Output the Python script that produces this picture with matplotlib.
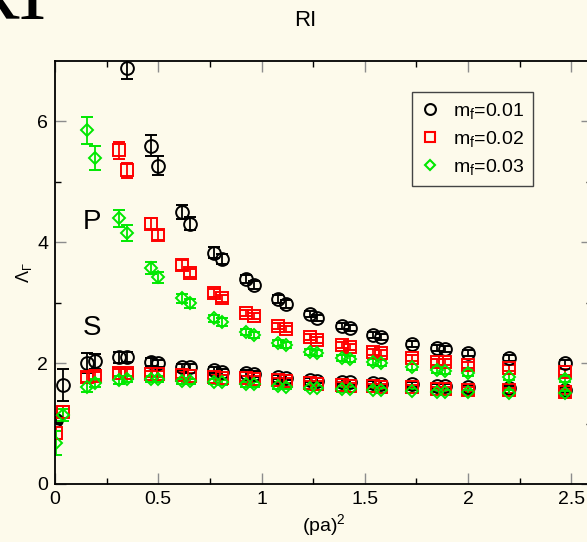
import numpy as np
import matplotlib
matplotlib.use("Agg")
import matplotlib.pyplot as plt
from matplotlib.lines import Line2D

plt.rcParams['font.family'] = ['Liberation Sans', 'DejaVu Sans']
plt.rcParams['mathtext.fontset'] = 'custom'
plt.rcParams['mathtext.rm'] = 'Liberation Sans'
plt.rcParams['mathtext.it'] = 'Liberation Sans:italic'

# (pa)^2 values
x_all = [0.005, 0.039, 0.155, 0.193, 0.308, 0.347, 0.463, 0.50, 0.617, 0.655,
         0.77, 0.81, 0.925, 0.965, 1.08, 1.12, 1.235, 1.27, 1.39, 1.43,
         1.54, 1.58, 1.73, 1.85, 1.89, 2.0, 2.2, 2.47]

# P channel (points above the top of the frame left out)
x_p01 = x_all[5:]
p01 = [6.88, 5.60, 5.27, 4.50, 4.31, 3.83, 3.72, 3.39, 3.29, 3.06, 2.98, 2.81, 2.74,
       2.61, 2.58, 2.46, 2.43, 2.31, 2.25, 2.24, 2.16, 2.08, 2.00]
p01_err = [0.18, 0.17, 0.15, 0.12, 0.11, 0.09, 0.08, 0.07, 0.07, 0.06, 0.06, 0.05, 0.05,
           0.05, 0.05, 0.05, 0.05, 0.05, 0.05, 0.05, 0.05, 0.05, 0.05]

x_p02 = x_all[4:]
p02 = [5.52, 5.19, 4.31, 4.12, 3.62, 3.49, 3.16, 3.07, 2.83, 2.78, 2.61, 2.56, 2.43, 2.38,
       2.30, 2.27, 2.18, 2.16, 2.08, 2.02, 2.02, 1.97, 1.92, 1.85]
p02_err = [0.14, 0.13, 0.09, 0.08, 0.08, 0.07, 0.06, 0.06, 0.05, 0.05, 0.05, 0.05, 0.05, 0.05,
           0.05, 0.05, 0.05, 0.05, 0.05, 0.05, 0.05, 0.05, 0.05, 0.05]

x_p03 = x_all[2:]
p03 = [5.85, 5.39, 4.40, 4.15, 3.57, 3.42, 3.07, 2.99, 2.74, 2.68, 2.51, 2.46, 2.33, 2.30,
       2.18, 2.16, 2.08, 2.07, 2.02, 2.00, 1.94, 1.88, 1.87, 1.83, 1.77, 1.73]
p03_err = [0.22, 0.20, 0.14, 0.13, 0.10, 0.09, 0.07, 0.07, 0.06, 0.06, 0.05, 0.05, 0.05, 0.05,
           0.05, 0.05, 0.05, 0.05, 0.05, 0.05, 0.05, 0.05, 0.05, 0.05, 0.05, 0.05]

# S channel
s01 = [1.06, 1.64, 2.00, 2.03, 2.10, 2.10, 2.02, 2.00, 1.94, 1.93, 1.88, 1.86, 1.83, 1.82,
       1.77, 1.76, 1.72, 1.71, 1.69, 1.68, 1.67, 1.66, 1.65, 1.62, 1.62, 1.60, 1.59, 1.56]
s01_err = [0.05, 0.27, 0.16, 0.12, 0.09, 0.08, 0.06, 0.06, 0.05, 0.05, 0.05, 0.05, 0.05, 0.05,
           0.04, 0.04, 0.04, 0.04, 0.04, 0.04, 0.04, 0.04, 0.04, 0.04, 0.04, 0.04, 0.04, 0.04]
s02 = [0.84, 1.19, 1.77, 1.79, 1.84, 1.84, 1.82, 1.82, 1.80, 1.79, 1.77, 1.76, 1.75, 1.74,
       1.72, 1.71, 1.67, 1.66, 1.64, 1.63, 1.62, 1.61, 1.60, 1.57, 1.57, 1.56, 1.55, 1.53]
s02_err = [0.10, 0.10, 0.08, 0.07, 0.06, 0.06, 0.05, 0.05, 0.05, 0.05, 0.04, 0.04, 0.04, 0.04,
           0.04, 0.04, 0.04, 0.04, 0.04, 0.04, 0.04, 0.04, 0.04, 0.04, 0.04, 0.04, 0.04, 0.04]
s03 = [0.68, 1.14, 1.60, 1.67, 1.72, 1.73, 1.74, 1.74, 1.70, 1.70, 1.69, 1.68, 1.65, 1.65,
       1.62, 1.61, 1.59, 1.59, 1.57, 1.57, 1.56, 1.55, 1.54, 1.52, 1.52, 1.52, 1.51, 1.50]
s03_err = [0.20, 0.10, 0.07, 0.07, 0.06, 0.05, 0.05, 0.05, 0.04, 0.04, 0.04, 0.04, 0.04, 0.04,
           0.04, 0.04, 0.04, 0.04, 0.04, 0.04, 0.04, 0.04, 0.04, 0.04, 0.04, 0.04, 0.04, 0.04]

labels = [r'm$_{\rm f}$=0.01', r'm$_{\rm f}$=0.02', r'm$_{\rm f}$=0.03']
colors = ['black', '#ff0000', '#00e800']
markers = ['o', 's', 'D']
msizes = [9.2, 8.6, 6.4]

bg = '#fdfaeb'
fig = plt.figure(figsize=(5.87, 5.42), dpi=100, facecolor=bg)
ax = fig.add_axes([55/587, 1-484/542, (592-55)/587, (484-61)/542], facecolor=bg)

series = [
    (x_p01, p01, p01_err, x_all, s01, s01_err),
    (x_p02, p02, p02_err, x_all, s02, s02_err),
    (x_p03, p03, p03_err, x_all, s03, s03_err),
]
for i, (xp, yp, ep, xs, ys, es) in enumerate(series):
    for xx, yy, ee in [(xs, ys, es), (xp, yp, ep)]:
        ax.errorbar(xx, yy, yerr=ee, fmt=markers[i], ms=msizes[i], mfc='none',
                    mec=colors[i], mew=1.4, ecolor=colors[i], elinewidth=1.3,
                    capsize=4.4, capthick=1.3, clip_on=True)

ax.set_xlim(0, 2.6)
ax.set_ylim(0, 7)
ax.set_xticks([0, 0.5, 1, 1.5, 2, 2.5])
ax.set_xticklabels(['0', '0.5', '1', '1.5', '2', '2.5'])
ax.set_xticks(np.arange(0.25, 2.6, 0.5), minor=True)
ax.set_yticks([0, 2, 4, 6])
ax.set_yticks([1, 3, 5], minor=True)
ax.tick_params(which='both', direction='in', top=True, right=True, labelsize=14)
ax.tick_params(which='major', length=8, width=1, color='#8c8c8c', pad=5)
ax.tick_params(which='minor', length=4.5, width=1, color='black')
for sp in ax.spines.values():
    sp.set_linewidth(1.3)

ax.set_xlabel(r'(pa)$^2$', fontsize=14, labelpad=3)
ax.set_ylabel(r'$\Lambda_\Gamma$', fontsize=13, labelpad=2)

ax.text(0.18, 4.33, 'P', fontsize=20, ha='center', va='center')
ax.text(0.18, 2.58, 'S', fontsize=20, ha='center', va='center')

handles = [Line2D([], [], ls='none', marker=markers[i], ms=msizes[i] * 0.85, mfc='none',
                  mec=colors[i], mew=1.5) for i in range(3)]
leg = ax.legend(handles, labels, loc='upper left', bbox_to_anchor=(412/537 - 55/537, 1-31/423),
                fontsize=14, frameon=True, fancybox=False, edgecolor='#444444',
                facecolor=bg, framealpha=1, handlelength=0.9, handletextpad=0.75,
                labelspacing=0.42, borderpad=0.45, borderaxespad=0)
leg.get_frame().set_linewidth(1.0)

fig.text(305/587, 1-20/542, 'RI', fontsize=16, ha='center', va='center')
fig.text(47/587, 1-19/542, 'RI', fontsize=60, family=['Liberation Serif', 'DejaVu Serif'],
         ha='right', va='baseline')

fig.savefig('out.png', dpi=100, facecolor=bg)
